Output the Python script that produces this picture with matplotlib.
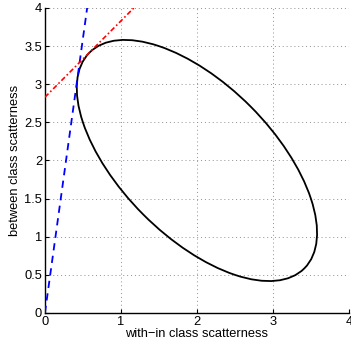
import matplotlib
matplotlib.use('Agg')
import matplotlib.pyplot as plt
from matplotlib.patches import Ellipse
import numpy as np

# ellipse of the scatter (center, semi axes, rotation)
ellipse_center = (2.0, 2.0)
ellipse_axes = (2.0, 1.0)
ellipse_angle = -45

# tangent lines y = slope*x + intercept
blue_slope = 7.2
blue_intercept = 0.0
red_slope = 1.0
red_intercept = 2.83

x_ticks = [0, 1, 2, 3, 4]
y_ticks = [0, 0.5, 1, 1.5, 2, 2.5, 3, 3.5, 4]
x_tick_labels = ['0', '1', '2', '3', '4']
y_tick_labels = ['0', '0.5', '1', '1.5', '2', '2.5', '3', '3.5', '4']

plt.rcParams['font.family'] = ['Liberation Sans', 'DejaVu Sans']
plt.rcParams['font.size'] = 9

fig = plt.figure(figsize=(3.51, 3.47), dpi=100)
ax = fig.add_axes([0.128, 0.098, 0.866, 0.879])

# ellipse
e = Ellipse(ellipse_center, 2 * ellipse_axes[0], 2 * ellipse_axes[1], angle=ellipse_angle,
            fill=False, edgecolor='black', linewidth=1.3, zorder=3)
ax.add_patch(e)

# blue dashed line from origin up to top
y_line = np.array([0.0, 4.0])
x_blue = (y_line - blue_intercept) / blue_slope
ax.plot(x_blue, y_line, '--', color='blue', linewidth=1.3, dashes=(4, 3), zorder=4)

# red dash-dot line
x_red = np.array([0.0, (4.0 - red_intercept) / red_slope])
ax.plot(x_red, red_slope * x_red + red_intercept, '-.', color='red', linewidth=1.2,
        dashes=(3, 1.5, 1, 1.5), zorder=4)

ax.set_xlim(0, 4)
ax.set_ylim(0, 4)
ax.set_xticks(x_ticks)
ax.set_yticks(y_ticks)
ax.set_xticklabels(x_tick_labels)
ax.set_yticklabels(y_tick_labels)
ax.tick_params(direction='in', length=3, width=0.8, pad=2, labelsize=9.3)
ax.grid(True, linestyle=(0, (1, 3)), color='#909090', linewidth=0.7)

# box off, like matlab
ax.spines['top'].set_visible(False)
ax.spines['right'].set_visible(False)
ax.spines['left'].set_linewidth(1.0)
ax.spines['bottom'].set_linewidth(1.0)

ax.set_xlabel('with\u2212in class scatterness', labelpad=0, fontsize=9.3)
ax.set_ylabel('between class scatterness', labelpad=2, fontsize=9.3)

fig.savefig('out.png', dpi=100)
